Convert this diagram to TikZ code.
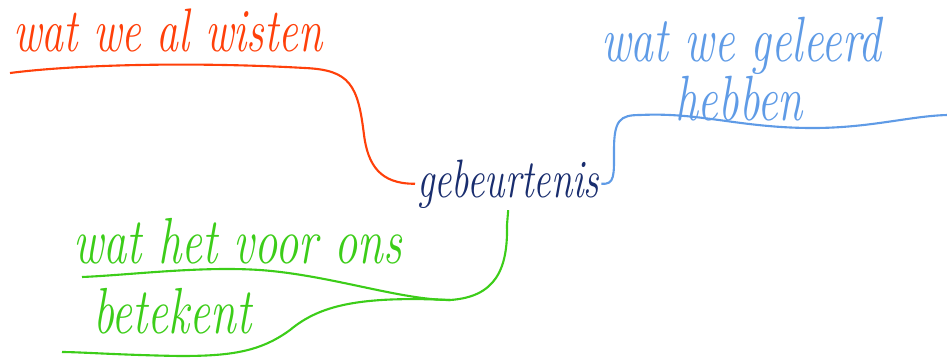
\documentclass[tikz,border=0pt]{standalone}
\usepackage{tikz}
\usepackage{graphicx}
\usetikzlibrary{positioning}
\definecolor{oranje}{RGB}{255,64,10}
\definecolor{lichtblauw}{RGB}{95,155,230}
\definecolor{groen}{RGB}{60,205,25}
\definecolor{donkerblauw}{RGB}{25,45,110}
% handgeschreven: hoger dan breed
\newcommand{\hand}[1]{\scalebox{1}[1.4]{#1}}
\tikzset{
    event/.style={color=donkerblauw, font=\fontsize{22}{26}\selectfont\itshape, inner sep=1pt},
    known/.style={color=oranje, font=\fontsize{25}{30}\selectfont\itshape, line width=1.2pt, inner sep=0pt},
    learnt/.style={color=lichtblauw, font=\fontsize{26}{30}\selectfont\itshape, line width=1.2pt, inner sep=0pt},
    means/.style={color=groen, font=\fontsize{26.5}{30}\selectfont\itshape, line width=1.2pt, inner sep=0pt},
}

\begin{document}
\begin{tikzpicture}[x=0.02cm, y=-0.02cm]
                    \useasboundingbox (0,0) rectangle (947,360);
                    \node [event, anchor=base west] (gebeurtenis) at (415,197) {\hand{gebeurtenis}};
                    \node [known, anchor=base west] (wisten) at (12,51) {\hand{wat we al wisten}};
                    \node [learnt, anchor=base west] (geleerd) at (600,61) {\hand{wat we geleerd}};
                    \node [learnt, anchor=base west] (hebben) at (674,120) {\hand{hebben}};
                    \node [means, anchor=base west] (voorons) at (72,263) {\hand{wat het voor ons}};
                    \node [means, anchor=base west] (betekent) at (92,333) {\hand{betekent}};
                    \coordinate (k) at (10,73);
                    \coordinate (l) at (947,115);
                    \coordinate (split) at (450,300);
                    \coordinate (m1) at (82,277);
                    \coordinate (m2) at (62,352);
                    \draw [known] (gebeurtenis.west) .. controls (380,184) and (368,165) .. (364,135)
                        .. controls (358,85) and (350,70) .. (305,68)
                        .. controls (200,62) and (80,64) .. (k);
                    \draw [learnt] (gebeurtenis.east) .. controls (615,185) and (614,175) .. (614,150)
                        .. controls (614,120) and (620,115) .. (640,115)
                        .. controls (700,112) and (740,128) .. (813,128)
                        .. controls (870,128) and (910,116) .. (l);
                    \draw [means] (gebeurtenis.south) -- (507,225) .. controls (508,270) and (495,297) .. (split);
                    \draw [means] (split) .. controls (400,300) and (330,275) .. (260,270)
                        .. controls (200,266) and (130,275) .. (m1);
                    \draw [means] (split) .. controls (360,296) and (320,305) .. (290,330)
                        .. controls (260,352) and (230,356) .. (180,356)
                        .. controls (120,355) and (80,352) .. (m2);
                \end{tikzpicture}
\end{document}
